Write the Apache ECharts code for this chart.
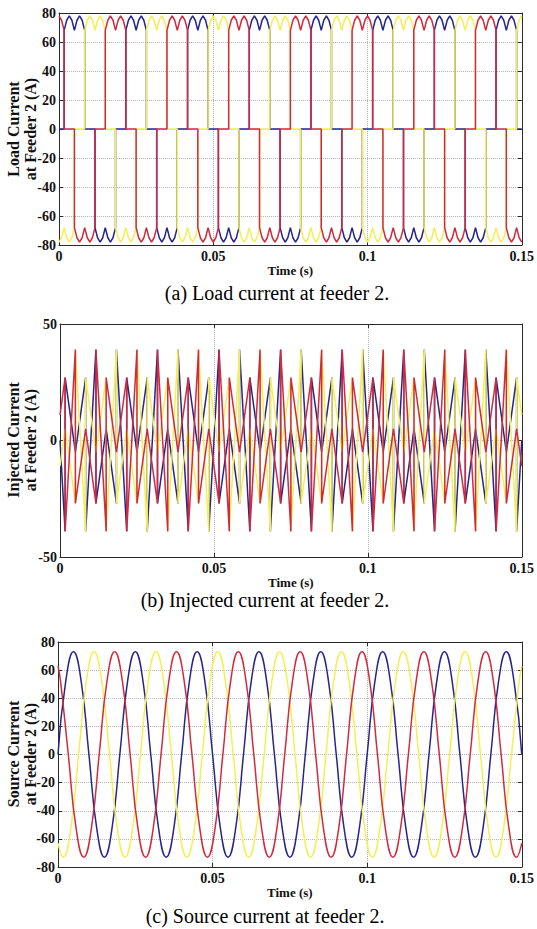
<!DOCTYPE html>
<html><head><meta charset="utf-8">
<script src="https://cdn.jsdelivr.net/npm/echarts@6/dist/echarts.min.js"></script>
<style>html,body{margin:0;padding:0;background:#fff}#c{width:537px;height:929px}</style>
</head><body><div id="c"></div>
<script>
// time values in milliseconds, currents in amperes
const xTickLabels = {0: '0', 50: '0.05', 100: '0.1', 150: '0.15'};
const captions = ['(a) Load current at feeder 2.', '(b) Injected current at feeder 2.', '(c) Source current at feeder 2.'];
const yNames = ['Load Current\nat Feeder 2 (A)', 'Injected Current\nat Feeder 2 (A)', 'Source Current\nat Feeder 2 (A)'];
const phaseColors = {blue: '#25258c', yellow: '#f3ef55', red: '#cf2b3d'};

const loadBlue = [[0,0],
[1.67,0],[1.67,68],[2.5,75],[3.33,78],[4.17,75],[5,68],[5.83,75],[6.67,78],[7.5,75],[8.33,68],[8.33,0],[11.67,0],[11.67,-68],[12.5,-75],[13.33,-78],[14.17,-75],[15,-68],[15.83,-75],[16.67,-78],[17.5,-75],[18.33,-68],[18.33,0],
[21.67,0],[21.67,68],[22.5,75],[23.33,78],[24.17,75],[25,68],[25.83,75],[26.67,78],[27.5,75],[28.33,68],[28.33,0],[31.67,0],[31.67,-68],[32.5,-75],[33.33,-78],[34.17,-75],[35,-68],[35.83,-75],[36.67,-78],[37.5,-75],[38.33,-68],[38.33,0],
[41.67,0],[41.67,68],[42.5,75],[43.33,78],[44.17,75],[45,68],[45.83,75],[46.67,78],[47.5,75],[48.33,68],[48.33,0],[51.67,0],[51.67,-68],[52.5,-75],[53.33,-78],[54.17,-75],[55,-68],[55.83,-75],[56.67,-78],[57.5,-75],[58.33,-68],[58.33,0],
[61.67,0],[61.67,68],[62.5,75],[63.33,78],[64.17,75],[65,68],[65.83,75],[66.67,78],[67.5,75],[68.33,68],[68.33,0],[71.67,0],[71.67,-68],[72.5,-75],[73.33,-78],[74.17,-75],[75,-68],[75.83,-75],[76.67,-78],[77.5,-75],[78.33,-68],[78.33,0],
[81.67,0],[81.67,68],[82.5,75],[83.33,78],[84.17,75],[85,68],[85.83,75],[86.67,78],[87.5,75],[88.33,68],[88.33,0],[91.67,0],[91.67,-68],[92.5,-75],[93.33,-78],[94.17,-75],[95,-68],[95.83,-75],[96.67,-78],[97.5,-75],[98.33,-68],[98.33,0],
[101.67,0],[101.67,68],[102.5,75],[103.33,78],[104.17,75],[105,68],[105.83,75],[106.67,78],[107.5,75],[108.33,68],[108.33,0],[111.67,0],[111.67,-68],[112.5,-75],[113.33,-78],[114.17,-75],[115,-68],[115.83,-75],[116.67,-78],[117.5,-75],[118.33,-68],[118.33,0],
[121.67,0],[121.67,68],[122.5,75],[123.33,78],[124.17,75],[125,68],[125.83,75],[126.67,78],[127.5,75],[128.33,68],[128.33,0],[131.67,0],[131.67,-68],[132.5,-75],[133.33,-78],[134.17,-75],[135,-68],[135.83,-75],[136.67,-78],[137.5,-75],[138.33,-68],[138.33,0],
[141.67,0],[141.67,68],[142.5,75],[143.33,78],[144.17,75],[145,68],[145.83,75],[146.67,78],[147.5,75],[148.33,68],[148.33,0],[150,0]];

const loadRed = [
[0,78],[0.83,75],[1.67,68],[1.67,0],[5,0],[5,-68],[5.83,-75],[6.67,-78],[7.5,-75],[8.33,-68],[9.17,-75],[10,-78],[10.83,-75],[11.67,-68],[11.67,0],[15,0],[15,68],[15.83,75],[16.67,78],[17.5,75],[18.33,68],[19.17,75],
[20,78],[20.83,75],[21.67,68],[21.67,0],[25,0],[25,-68],[25.83,-75],[26.67,-78],[27.5,-75],[28.33,-68],[29.17,-75],[30,-78],[30.83,-75],[31.67,-68],[31.67,0],[35,0],[35,68],[35.83,75],[36.67,78],[37.5,75],[38.33,68],[39.17,75],
[40,78],[40.83,75],[41.67,68],[41.67,0],[45,0],[45,-68],[45.83,-75],[46.67,-78],[47.5,-75],[48.33,-68],[49.17,-75],[50,-78],[50.83,-75],[51.67,-68],[51.67,0],[55,0],[55,68],[55.83,75],[56.67,78],[57.5,75],[58.33,68],[59.17,75],
[60,78],[60.83,75],[61.67,68],[61.67,0],[65,0],[65,-68],[65.83,-75],[66.67,-78],[67.5,-75],[68.33,-68],[69.17,-75],[70,-78],[70.83,-75],[71.67,-68],[71.67,0],[75,0],[75,68],[75.83,75],[76.67,78],[77.5,75],[78.33,68],[79.17,75],
[80,78],[80.83,75],[81.67,68],[81.67,0],[85,0],[85,-68],[85.83,-75],[86.67,-78],[87.5,-75],[88.33,-68],[89.17,-75],[90,-78],[90.83,-75],[91.67,-68],[91.67,0],[95,0],[95,68],[95.83,75],[96.67,78],[97.5,75],[98.33,68],[99.17,75],
[100,78],[100.83,75],[101.67,68],[101.67,0],[105,0],[105,-68],[105.83,-75],[106.67,-78],[107.5,-75],[108.33,-68],[109.17,-75],[110,-78],[110.83,-75],[111.67,-68],[111.67,0],[115,0],[115,68],[115.83,75],[116.67,78],[117.5,75],[118.33,68],[119.17,75],
[120,78],[120.83,75],[121.67,68],[121.67,0],[125,0],[125,-68],[125.83,-75],[126.67,-78],[127.5,-75],[128.33,-68],[129.17,-75],[130,-78],[130.83,-75],[131.67,-68],[131.67,0],[135,0],[135,68],[135.83,75],[136.67,78],[137.5,75],[138.33,68],[139.17,75],
[140,78],[140.83,75],[141.67,68],[141.67,0],[145,0],[145,-68],[145.83,-75],[146.67,-78],[147.5,-75],[148.33,-68],[149.17,-75],[150,-78]];

const loadYellow = [
[0,-78],[0.83,-75],[1.67,-68],[2.5,-75],[3.33,-78],[4.17,-75],[5,-68],[5,0],[8.33,0],[8.33,68],[9.17,75],[10,78],[10.83,75],[11.67,68],[12.5,75],[13.33,78],[14.17,75],[15,68],[15,0],[18.33,0],[18.33,-68],[19.17,-75],
[20,-78],[20.83,-75],[21.67,-68],[22.5,-75],[23.33,-78],[24.17,-75],[25,-68],[25,0],[28.33,0],[28.33,68],[29.17,75],[30,78],[30.83,75],[31.67,68],[32.5,75],[33.33,78],[34.17,75],[35,68],[35,0],[38.33,0],[38.33,-68],[39.17,-75],
[40,-78],[40.83,-75],[41.67,-68],[42.5,-75],[43.33,-78],[44.17,-75],[45,-68],[45,0],[48.33,0],[48.33,68],[49.17,75],[50,78],[50.83,75],[51.67,68],[52.5,75],[53.33,78],[54.17,75],[55,68],[55,0],[58.33,0],[58.33,-68],[59.17,-75],
[60,-78],[60.83,-75],[61.67,-68],[62.5,-75],[63.33,-78],[64.17,-75],[65,-68],[65,0],[68.33,0],[68.33,68],[69.17,75],[70,78],[70.83,75],[71.67,68],[72.5,75],[73.33,78],[74.17,75],[75,68],[75,0],[78.33,0],[78.33,-68],[79.17,-75],
[80,-78],[80.83,-75],[81.67,-68],[82.5,-75],[83.33,-78],[84.17,-75],[85,-68],[85,0],[88.33,0],[88.33,68],[89.17,75],[90,78],[90.83,75],[91.67,68],[92.5,75],[93.33,78],[94.17,75],[95,68],[95,0],[98.33,0],[98.33,-68],[99.17,-75],
[100,-78],[100.83,-75],[101.67,-68],[102.5,-75],[103.33,-78],[104.17,-75],[105,-68],[105,0],[108.33,0],[108.33,68],[109.17,75],[110,78],[110.83,75],[111.67,68],[112.5,75],[113.33,78],[114.17,75],[115,68],[115,0],[118.33,0],[118.33,-68],[119.17,-75],
[120,-78],[120.83,-75],[121.67,-68],[122.5,-75],[123.33,-78],[124.17,-75],[125,-68],[125,0],[128.33,0],[128.33,68],[129.17,75],[130,78],[130.83,75],[131.67,68],[132.5,75],[133.33,78],[134.17,75],[135,68],[135,0],[138.33,0],[138.33,-68],[139.17,-75],
[140,-78],[140.83,-75],[141.67,-68],[142.5,-75],[143.33,-78],[144.17,-75],[145,-68],[145,0],[148.33,0],[148.33,68],[149.17,75],[150,78]];

const injBlue = [[0,0],
[1.67,-39],[1.67,27],[5,-5],[8.33,27],[8.33,-39],[11.67,39],[11.67,-27],[15,5],[18.33,-27],[18.33,39],
[21.67,-39],[21.67,27],[25,-5],[28.33,27],[28.33,-39],[31.67,39],[31.67,-27],[35,5],[38.33,-27],[38.33,39],
[41.67,-39],[41.67,27],[45,-5],[48.33,27],[48.33,-39],[51.67,39],[51.67,-27],[55,5],[58.33,-27],[58.33,39],
[61.67,-39],[61.67,27],[65,-5],[68.33,27],[68.33,-39],[71.67,39],[71.67,-27],[75,5],[78.33,-27],[78.33,39],
[81.67,-39],[81.67,27],[85,-5],[88.33,27],[88.33,-39],[91.67,39],[91.67,-27],[95,5],[98.33,-27],[98.33,39],
[101.67,-39],[101.67,27],[105,-5],[108.33,27],[108.33,-39],[111.67,39],[111.67,-27],[115,5],[118.33,-27],[118.33,39],
[121.67,-39],[121.67,27],[125,-5],[128.33,27],[128.33,-39],[131.67,39],[131.67,-27],[135,5],[138.33,-27],[138.33,39],
[141.67,-39],[141.67,27],[145,-5],[148.33,27],[148.33,-39],[150,0]];

const injRed = [[0,11],
[1.67,27],[1.67,-39],[5,39],[5,-27],[8.33,5],[11.67,-27],[11.67,39],[15,-39],[15,27],[18.33,-5],
[21.67,27],[21.67,-39],[25,39],[25,-27],[28.33,5],[31.67,-27],[31.67,39],[35,-39],[35,27],[38.33,-5],
[41.67,27],[41.67,-39],[45,39],[45,-27],[48.33,5],[51.67,-27],[51.67,39],[55,-39],[55,27],[58.33,-5],
[61.67,27],[61.67,-39],[65,39],[65,-27],[68.33,5],[71.67,-27],[71.67,39],[75,-39],[75,27],[78.33,-5],
[81.67,27],[81.67,-39],[85,39],[85,-27],[88.33,5],[91.67,-27],[91.67,39],[95,-39],[95,27],[98.33,-5],
[101.67,27],[101.67,-39],[105,39],[105,-27],[108.33,5],[111.67,-27],[111.67,39],[115,-39],[115,27],[118.33,-5],
[121.67,27],[121.67,-39],[125,39],[125,-27],[128.33,5],[131.67,-27],[131.67,39],[135,-39],[135,27],[138.33,-5],
[141.67,27],[141.67,-39],[145,39],[145,-27],[148.33,5],[150,-11]];

const injYellow = [[0,-11],
[1.67,5],[5,-27],[5,39],[8.33,-39],[8.33,27],[11.67,-5],[15,27],[15,-39],[18.33,39],[18.33,-27],
[21.67,5],[25,-27],[25,39],[28.33,-39],[28.33,27],[31.67,-5],[35,27],[35,-39],[38.33,39],[38.33,-27],
[41.67,5],[45,-27],[45,39],[48.33,-39],[48.33,27],[51.67,-5],[55,27],[55,-39],[58.33,39],[58.33,-27],
[61.67,5],[65,-27],[65,39],[68.33,-39],[68.33,27],[71.67,-5],[75,27],[75,-39],[78.33,39],[78.33,-27],
[81.67,5],[85,-27],[85,39],[88.33,-39],[88.33,27],[91.67,-5],[95,27],[95,-39],[98.33,39],[98.33,-27],
[101.67,5],[105,-27],[105,39],[108.33,-39],[108.33,27],[111.67,-5],[115,27],[115,-39],[118.33,39],[118.33,-27],
[121.67,5],[125,-27],[125,39],[128.33,-39],[128.33,27],[131.67,-5],[135,27],[135,-39],[138.33,39],[138.33,-27],
[141.67,5],[145,-27],[145,39],[148.33,-39],[148.33,27],[150,11]];

const srcBlue = [
[0,0],[2.5,52],[5,73],[7.5,52],[10,0],[12.5,-52],[15,-73],[17.5,-52],
[20,0],[22.5,52],[25,73],[27.5,52],[30,0],[32.5,-52],[35,-73],[37.5,-52],
[40,0],[42.5,52],[45,73],[47.5,52],[50,0],[52.5,-52],[55,-73],[57.5,-52],
[60,0],[62.5,52],[65,73],[67.5,52],[70,0],[72.5,-52],[75,-73],[77.5,-52],
[80,0],[82.5,52],[85,73],[87.5,52],[90,0],[92.5,-52],[95,-73],[97.5,-52],
[100,0],[102.5,52],[105,73],[107.5,52],[110,0],[112.5,-52],[115,-73],[117.5,-52],
[120,0],[122.5,52],[125,73],[127.5,52],[130,0],[132.5,-52],[135,-73],[137.5,-52],
[140,0],[142.5,52],[145,73],[147.5,52],[150,0]];

const srcRed = [[0,63],
[0.83,52],[3.33,0],[5.83,-52],[8.33,-73],[10.83,-52],[13.33,0],[15.83,52],[18.33,73],
[20.83,52],[23.33,0],[25.83,-52],[28.33,-73],[30.83,-52],[33.33,0],[35.83,52],[38.33,73],
[40.83,52],[43.33,0],[45.83,-52],[48.33,-73],[50.83,-52],[53.33,0],[55.83,52],[58.33,73],
[60.83,52],[63.33,0],[65.83,-52],[68.33,-73],[70.83,-52],[73.33,0],[75.83,52],[78.33,73],
[80.83,52],[83.33,0],[85.83,-52],[88.33,-73],[90.83,-52],[93.33,0],[95.83,52],[98.33,73],
[100.83,52],[103.33,0],[105.83,-52],[108.33,-73],[110.83,-52],[113.33,0],[115.83,52],[118.33,73],
[120.83,52],[123.33,0],[125.83,-52],[128.33,-73],[130.83,-52],[133.33,0],[135.83,52],[138.33,73],
[140.83,52],[143.33,0],[145.83,-52],[148.33,-73],[150,-63]];

const srcYellow = [[0,-63],
[1.67,-73],[4.17,-52],[6.67,0],[9.17,52],[11.67,73],[14.17,52],[16.67,0],[19.17,-52],
[21.67,-73],[24.17,-52],[26.67,0],[29.17,52],[31.67,73],[34.17,52],[36.67,0],[39.17,-52],
[41.67,-73],[44.17,-52],[46.67,0],[49.17,52],[51.67,73],[54.17,52],[56.67,0],[59.17,-52],
[61.67,-73],[64.17,-52],[66.67,0],[69.17,52],[71.67,73],[74.17,52],[76.67,0],[79.17,-52],
[81.67,-73],[84.17,-52],[86.67,0],[89.17,52],[91.67,73],[94.17,52],[96.67,0],[99.17,-52],
[101.67,-73],[104.17,-52],[106.67,0],[109.17,52],[111.67,73],[114.17,52],[116.67,0],[119.17,-52],
[121.67,-73],[124.17,-52],[126.67,0],[129.17,52],[131.67,73],[134.17,52],[136.67,0],[139.17,-52],
[141.67,-73],[144.17,-52],[146.67,0],[149.17,52],[150,63]];

const panels = [
  {grid: {left: 59, top: 13, width: 466, height: 232}, y: [-80, 80, 20], data: [loadBlue, loadYellow, loadRed], smooth: false, cap: [277, 293], nameY: 129, gap: 18},
  {grid: {left: 60, top: 324, width: 465, height: 233}, y: [-50, 50, 50], data: [injBlue, injYellow, injRed], smooth: false, cap: [265, 600], nameY: 440, gap: 15},
  {grid: {left: 58, top: 642, width: 467, height: 225}, y: [-80, 80, 20], data: [srcBlue, srcYellow, srcRed], smooth: true, cap: [265, 916], nameY: 754, gap: 17}
];
const lineColorOrder = [phaseColors.blue, phaseColors.yellow, phaseColors.red];

const font = '"Liberation Serif", "Times New Roman", serif';
const frame = '#2a2a2a';
const grids = [], xAxes = [], yAxes = [], series = [], graphics = [];
panels.forEach((p, i) => {
  grids.push(Object.assign({containLabel: false}, p.grid));
  const tick = {show: true, inside: true, length: 4, lineStyle: {color: frame, width: 1}};
  const line = {show: true, onZero: false, lineStyle: {color: frame, width: 1}};
  const split = {show: true, lineStyle: {type: 'dotted', color: '#b5b5b5', width: 1}};
  xAxes.push({gridIndex: i, type: 'value', position: 'bottom', min: 0, max: 150, interval: 50,
    axisLine: line, axisTick: tick, splitLine: split,
    axisLabel: {margin: 4, fontFamily: font, fontWeight: 'bold', fontSize: 14, color: '#111',
      showMinLabel: true, showMaxLabel: true,
      formatter: v => (xTickLabels[Math.round(v)] !== undefined ? xTickLabels[Math.round(v)] : '')},
    name: 'Time (s)', nameLocation: 'middle', nameGap: p.gap,
    nameTextStyle: {fontFamily: font, fontWeight: 'bold', fontSize: 13, color: '#111'}});
  xAxes.push({gridIndex: i, type: 'value', position: 'top', min: 0, max: 150, interval: 50,
    axisLine: line, axisTick: tick, splitLine: {show: false}, axisLabel: {show: false}});
  yAxes.push({gridIndex: i, type: 'value', position: 'left', min: p.y[0], max: p.y[1], interval: p.y[2],
    axisLine: line, axisTick: tick, splitLine: split,
    axisLabel: {margin: 3, fontFamily: font, fontWeight: 'bold', fontSize: 14, color: '#111'}});
  yAxes.push({gridIndex: i, type: 'value', position: 'right', min: p.y[0], max: p.y[1], interval: p.y[2],
    axisLine: line, axisTick: tick, splitLine: {show: false}, axisLabel: {show: false}});
  p.data.forEach((d, k) => {
    series.push({type: 'line', xAxisIndex: i * 2, yAxisIndex: i * 2, data: d,
      showSymbol: false, symbol: 'none', smooth: p.smooth, animation: false, silent: true,
      lineStyle: {color: lineColorOrder[k], width: 1.5}, z: 2 + k});
  });
  graphics.push({type: 'text', x: p.cap[0], y: p.cap[1],
    style: {text: captions[i], font: '20px ' + font, fill: '#000', textAlign: 'center', textVerticalAlign: 'middle'}});
  graphics.push({type: 'text', x: 22, y: p.nameY, rotation: Math.PI / 2,
    style: {text: yNames[i], font: 'bold 16px ' + font, fill: '#111', textAlign: 'center', textVerticalAlign: 'middle', lineHeight: 17}});
});

const chart = echarts.init(document.getElementById('c'), null, {renderer: 'svg'});
chart.setOption({animation: false, backgroundColor: '#fff', grid: grids, xAxis: xAxes, yAxis: yAxes, series: series, graphic: graphics});
</script>
</body></html>
